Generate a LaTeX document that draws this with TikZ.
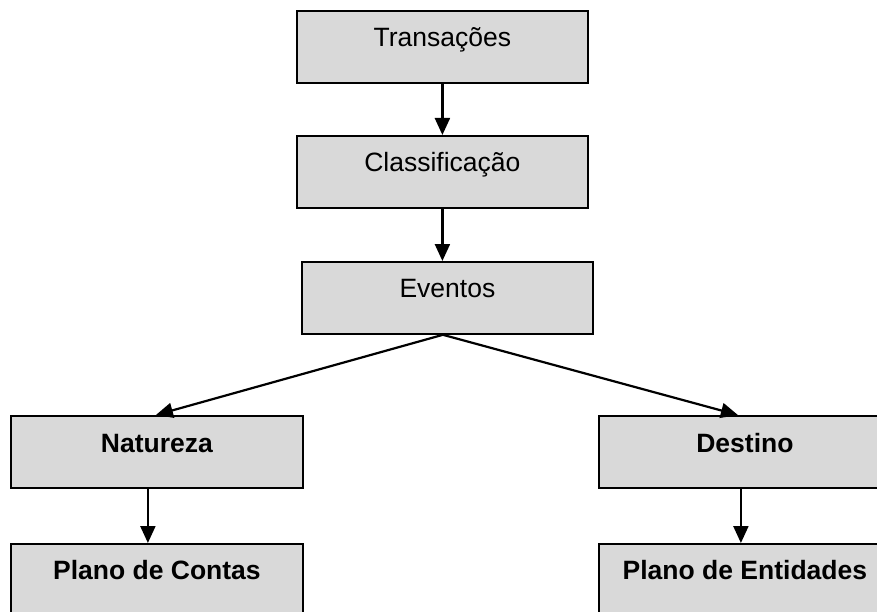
\documentclass[tikz,border=0pt]{standalone}
\usepackage{fontspec}
\setmainfont{Liberation Sans}
\usetikzlibrary{arrows.meta,calc}
\definecolor{boxfill}{RGB}{217,217,217}
\begin{document}
\begin{tikzpicture}[x=1pt,y=-1pt,
  box/.style={draw=black, fill=boxfill, line width=1.8pt, rectangle,
    minimum width=291pt, minimum height=72pt, inner sep=0pt, anchor=north west},
  lbl/.style={anchor=base, inner sep=0pt, font=\fontsize{26.5}{30}\selectfont},
  blbl/.style={lbl, font=\fontsize{26.5}{30}\selectfont\bfseries},
  arr/.style={line width=2.2pt, -{Triangle[length=17pt,width=15pt]}}]
\clip (0,0) rectangle (877,612);
\fill[white] (0,0) rectangle (877,612);
% boxes
\node[box] (tr) at (296,10) {};
\node[box] (cl) at (296,135) {};
\node[box, minimum width=291pt] (ev) at (301,261) {};
\node[box, minimum width=292pt] (na) at (10,415) {};
\node[box, minimum width=292pt] (de) at (598,415) {};
\node[box, minimum width=292pt, minimum height=80pt] (pc) at (10,543) {};
\node[box, minimum width=292pt, minimum height=80pt] (pe) at (598,543) {};
% labels
\node[lbl] (trt) at ($(tr.north)+(0,37)$) {Transações};
\node[lbl] (clt) at ($(cl.north)+(0,37)$) {Classificação};
\node[lbl] (evt) at ($(ev.north)+(0,36)$) {Eventos};
\node[blbl] (nat) at ($(na.north)+(0,37)$) {Natureza};
\node[blbl] (det) at ($(de.north)+(0,37)$) {Destino};
\node[blbl] (pct) at ($(pc.north)+(0,36)$) {Plano de Contas};
\node[blbl] (pet) at ($(pe.north)+(0,36)$) {Plano de Entidades};
% connectors
\coordinate (evs) at ($(ev.south)+(-4.5,0)$);
\draw[arr] (tr.south) -- (cl.north);
\draw[arr] (cl.south) -- (cl.south |- ev.north);
\draw[arr] (evs) -- ($(na.north)+(-1,0)$);
\draw[arr] (evs) -- ($(de.north)+(-7,0)$);
\draw[arr] ($(na.south)+(-9,0)$) -- ($(pc.north)+(-9,0)$);
\draw[arr] ($(de.south)+(-4,0)$) -- ($(pe.north)+(-4,0)$);
\end{tikzpicture}
\end{document}
